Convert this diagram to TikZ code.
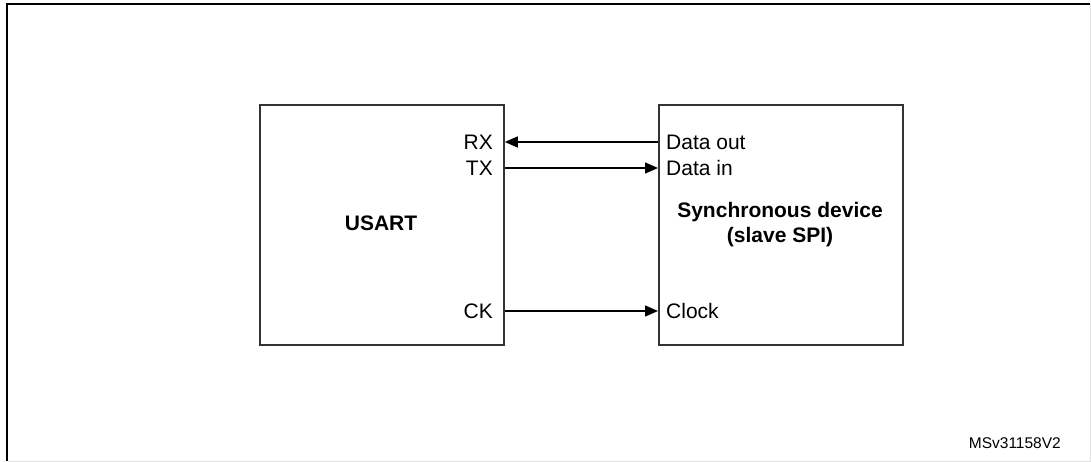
\documentclass[tikz,border=0pt]{standalone}
\usepackage{fontspec}
\setmainfont{Liberation Sans}
\usetikzlibrary{arrows.meta}
\begin{document}
\begin{tikzpicture}[x=1pt,y=-1pt,
  blk/.style={draw=black!80, line width=1.8pt, minimum width=244pt, minimum height=240pt, inner sep=0pt, anchor=north west},
  sig/.style={draw=black, line width=1.5pt, -{Triangle[length=13pt,width=11pt]}},
  pin/.style={font=\fontsize{21}{24}\selectfont, inner sep=0pt},
  title/.style={font=\fontsize{21}{25}\bfseries\selectfont, inner sep=0pt, align=center},
  note/.style={font=\fontsize{15.5}{18}\selectfont, inner sep=0pt, anchor=east}
]
\useasboundingbox (0,0) rectangle (1091,462);
% outer frame
\draw[line width=2.2pt] (7,461) -- (7,4) -- (1090,4);
\draw[black!12, line width=1pt] (1090,4) -- (1090,461) -- (7,461);
% blocks
\node[blk] (usart) at (259,104) {};
\node[blk] (dev) at (658,104) {};
\node[title] (usartlbl) at (381,223) {USART};
\node[title] (devlbl) at (780,224.5) {Synchronous device\\(slave SPI)};
% pin labels
\node[pin, anchor=east] (rx) at (493,142) {RX};
\node[pin, anchor=east] (tx) at (493,168) {TX};
\node[pin, anchor=east] (ck) at (493,311) {CK};
\node[pin, anchor=west] (dout) at (666,142) {Data out};
\node[pin, anchor=west] (din) at (666,168) {Data in};
\node[pin, anchor=west] (clk) at (666,311) {Clock};
% signal rows
\coordinate (rxrow) at (0,142);
\coordinate (txrow) at (0,168);
\coordinate (ckrow) at (0,311);
\draw[sig] (dev.west |- rxrow) -- (usart.east |- rxrow);
\draw[sig] (usart.east |- txrow) -- (dev.west |- txrow);
\draw[sig] (usart.east |- ckrow) -- (dev.west |- ckrow);
% reference
\node[note] (ref) at (1061,443) {MSv31158V2};
\end{tikzpicture}
\end{document}
